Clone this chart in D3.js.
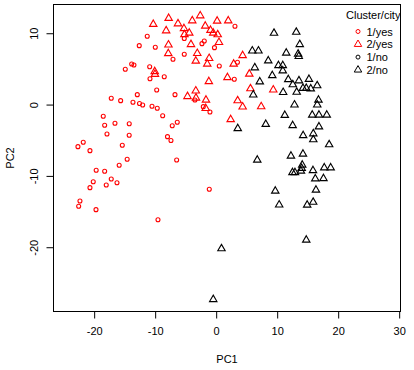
<!DOCTYPE html>
<html>
<head>
<meta charset="utf-8">
<script src="https://cdn.jsdelivr.net/npm/d3@7"></script>
<style>
  body { margin: 0; background: #fff; }
  text { font-family: "Liberation Sans", Arial, sans-serif; font-size: 11px; fill: #000; }
</style>
</head>
<body>
<div id="chart-area"></div>
<script>
// PC1 / PC2 scores per group
var cluster1Yes = [
    [-13.85, 5.69], [-13.48, 5.55], [-14.90, 4.95], [-12.93, 1.39], [-17.20, 0.88],
    [-15.66, 0.55], [-13.64, 0.32], [-12.57, 0.15], [-12.05, -0.06], [-18.51, -1.64],
    [-18.28, -2.90], [-16.59, -2.62], [-14.25, -2.69], [-17.90, -4.12], [-14.26, -4.30],
    [-15.39, -5.71], [-21.79, -5.29], [-22.66, -5.90], [-20.69, -6.46], [-14.59, -7.67],
    [-15.90, -8.51], [-19.67, -9.21], [-18.28, -9.35], [-17.20, -10.43], [-16.26, -10.95],
    [-20.15, -10.81], [-18.02, -11.27], [-20.69, -11.65], [-22.33, -13.51], [-22.54, -14.26],
    [-19.70, -14.73], [-11.30, 9.58], [-12.61, 8.26], [-9.98, 8.03], [-10.90, 5.31],
    [-8.51, 3.91], [-10.85, 3.63], [-9.75, 2.05], [-6.75, 1.39], [-5.23, 9.27],
    [-1.95, 8.92], [-2.33, 8.54], [-0.28, 7.98], [-7.08, 6.35], [-5.23, 7.05],
    [0.51, 5.41], [3.08, 10.98], [3.49, 5.93], [2.97, 3.56], [-3.48, 0.64],
    [-10.52, -0.24], [-9.66, -0.52], [-2.11, -0.29], [-1.02, -1.04], [-8.77, -1.56],
    [-7.20, -2.97], [-6.38, -2.48], [-7.98, -4.50], [-7.41, -5.03], [-6.48, -7.77],
    [-1.13, -11.87], [-9.54, -16.14]
];

var cluster2Yes = [
    [-7.79, 12.10], [-10.31, 11.26], [-6.26, 11.34], [-3.92, 11.76], [-2.61, 12.46],
    [0.16, 11.72], [1.98, 11.75], [-1.79, 11.02], [-8.20, 10.36], [-5.28, 10.67],
    [-4.41, 10.04], [-5.20, 9.83], [-0.93, 10.42], [-0.48, 10.04], [0.25, 9.80],
    [-4.13, 8.43], [-7.82, 8.38], [0.46, 8.73], [-7.85, 7.16], [-3.10, 7.19],
    [-3.34, 6.11], [-1.15, 6.49], [-1.46, 5.69], [4.34, 6.88], [2.87, 5.69],
    [5.43, 4.29], [-10.07, 4.64], [-10.03, 4.25], [-1.20, 3.24], [1.85, 3.80],
    [5.62, 2.23], [9.36, 2.07], [-3.34, 1.93], [-4.70, 1.14], [-3.31, 0.93],
    [-1.67, 0.64], [-1.72, -0.52], [3.52, 0.55], [4.34, -0.31], [7.38, -0.29],
    [2.38, -2.09]
];

var cluster1No = [];

var cluster2No = [
    [9.48, 10.01], [13.13, 10.15], [13.70, 8.43], [5.92, 7.54], [6.93, 7.54],
    [11.49, 7.23], [13.44, 7.09], [13.54, 6.77], [8.54, 6.15], [6.33, 5.17],
    [10.21, 5.48], [10.92, 5.48], [10.92, 4.74], [9.20, 4.08], [11.82, 3.52],
    [13.57, 3.35], [15.21, 3.55], [7.15, 3.20], [12.56, 2.79], [16.56, 2.65],
    [14.23, 2.29], [14.77, 2.29], [15.51, 2.22], [10.98, 1.72], [13.20, 1.74],
    [6.08, 1.37], [16.77, 0.64], [16.57, -0.03], [12.84, -0.03], [11.25, -1.49],
    [15.75, -1.46], [16.85, -1.46], [18.13, -1.46], [8.13, -2.76], [12.54, -2.93],
    [16.85, -3.11], [3.54, -3.35], [14.26, -4.33], [15.92, -4.08], [15.92, -4.92],
    [18.52, -5.62], [12.26, -7.21], [14.23, -6.93], [6.74, -7.77], [14.11, -8.47],
    [14.02, -8.93], [13.90, -9.31], [12.51, -9.52], [12.92, -9.52], [15.87, -9.24],
    [17.72, -8.86], [18.77, -8.86], [16.25, -10.40], [17.59, -10.36], [16.36, -11.97],
    [9.69, -12.11], [10.33, -14.05], [14.92, -14.08], [15.90, -13.68], [14.77, -18.98],
    [0.87, -20.20], [-0.48, -27.32]
];

var xTicks = [-20, -10, 0, 10, 20, 30];
var yTicks = [-20, -10, 0, 10];
var legendTitle = "Cluster/city";
var legendLabels = ["1/yes", "2/yes", "1/no", "2/no"];

var W = 414, H = 370;
var plotL = 53.5, plotR = 400.5, plotT = 4.5, plotB = 311.5;

var svg = d3.select("#chart-area")
    .append("svg")
    .attr("width", W)
    .attr("height", H);

svg.append("rect").attr("width", W).attr("height", H).attr("fill", "#fff");

var x = d3.scaleLinear()
    .domain([-26.7, 30.25])
    .range([plotL - 0.2, plotR + 0.2]);

var y = d3.scaleLinear()
    .domain([-29.08, 14.1])
    .range([plotB + 0.5, plotT - 0.5]);

// axes, R style
var xAxis = d3.axisBottom(x)
    .tickValues(xTicks)
    .tickSizeOuter(0)
    .tickSizeInner(7)
    .tickPadding(9)
    .tickFormat((d) => { return String(d); });

var gx = svg.append("g")
    .attr("transform", "translate(0," + plotB + ")")
    .call(xAxis);
gx.select(".domain").remove();
gx.selectAll("line").attr("stroke", "#000");
gx.selectAll("text")
    .attr("fill", "#000")
    .style("font-size", "11px")
    .style("font-family", "'Liberation Sans', Arial, sans-serif");

var yAxis = d3.axisLeft(y)
    .tickValues(yTicks)
    .tickSizeOuter(0)
    .tickSizeInner(7)
    .tickFormat((d) => { return String(d); });

var gy = svg.append("g")
    .attr("transform", "translate(" + plotL + ",0)")
    .call(yAxis);
gy.select(".domain").remove();
gy.selectAll("line").attr("stroke", "#000");
gy.selectAll("text").remove();
gy.selectAll(".tick").append("text")
    .attr("transform", "translate(-16,0) rotate(-90)")
    .attr("text-anchor", "middle")
    .attr("fill", "#000")
    .style("font-size", "11px")
    .text((d) => { return String(d); });

// box
svg.append("rect")
    .attr("x", plotL)
    .attr("y", plotT)
    .attr("width", plotR - plotL)
    .attr("height", plotB - plotT)
    .attr("fill", "none")
    .attr("stroke", "#000")
    .attr("stroke-width", 1);

// axis titles
svg.append("text")
    .attr("x", (plotL + plotR) / 2)
    .attr("y", 362.5)
    .attr("text-anchor", "middle")
    .text("PC1");

svg.append("text")
    .attr("transform", "translate(13.5," + (plotT + plotB) / 2 + ") rotate(-90)")
    .attr("text-anchor", "middle")
    .text("PC2");

// points
var tri = d3.symbol().type(d3.symbolTriangle).size(24);

function drawCircles(data, color) {
    svg.append("g").selectAll("circle")
        .data(data)
        .enter()
        .append("circle")
            .attr("cx", (d) => { return x(d[0]); })
            .attr("cy", (d) => { return y(d[1]); })
            .attr("r", 2)
            .attr("fill", "none")
            .attr("stroke", color)
            .attr("stroke-width", 1.1);
}

function drawTriangles(data, color) {
    svg.append("g").selectAll("path")
        .data(data)
        .enter()
        .append("path")
            .attr("d", tri)
            .attr("transform", (d) => {
                return "translate(" + x(d[0]) + "," + y(d[1]) + ")";
            })
            .attr("fill", "none")
            .attr("stroke", color)
            .attr("stroke-width", 1.1);
}

drawCircles(cluster1Yes, "#ff0000");
drawTriangles(cluster2Yes, "#ff0000");
drawCircles(cluster1No, "#000");
drawTriangles(cluster2No, "#000");

// legend (no box)
var legendColors = ["#ff0000", "#ff0000", "#000", "#000"];
var legendShapes = ["circle", "triangle", "circle", "triangle"];
var lg = svg.append("g");

lg.append("text")
    .attr("x", 346)
    .attr("y", 18.5)
    .text(legendTitle);

var rows = lg.selectAll("g.row")
    .data(legendLabels)
    .enter()
    .append("g")
        .attr("class", "row")
        .attr("transform", (d, i) => { return "translate(358," + (31.5 + i * 12.8) + ")"; });

rows.each(function(d, i) {
    var g = d3.select(this);
    if (legendShapes[i] == "circle") {
        g.append("circle").attr("r", 2)
            .attr("fill", "none").attr("stroke", legendColors[i]);
    } else {
        g.append("path").attr("d", tri)
            .attr("fill", "none").attr("stroke", legendColors[i]);
    }
    g.append("text")
        .attr("x", 8.5)
        .attr("y", 4)
        .text(d);
});
</script>
</body>
</html>
